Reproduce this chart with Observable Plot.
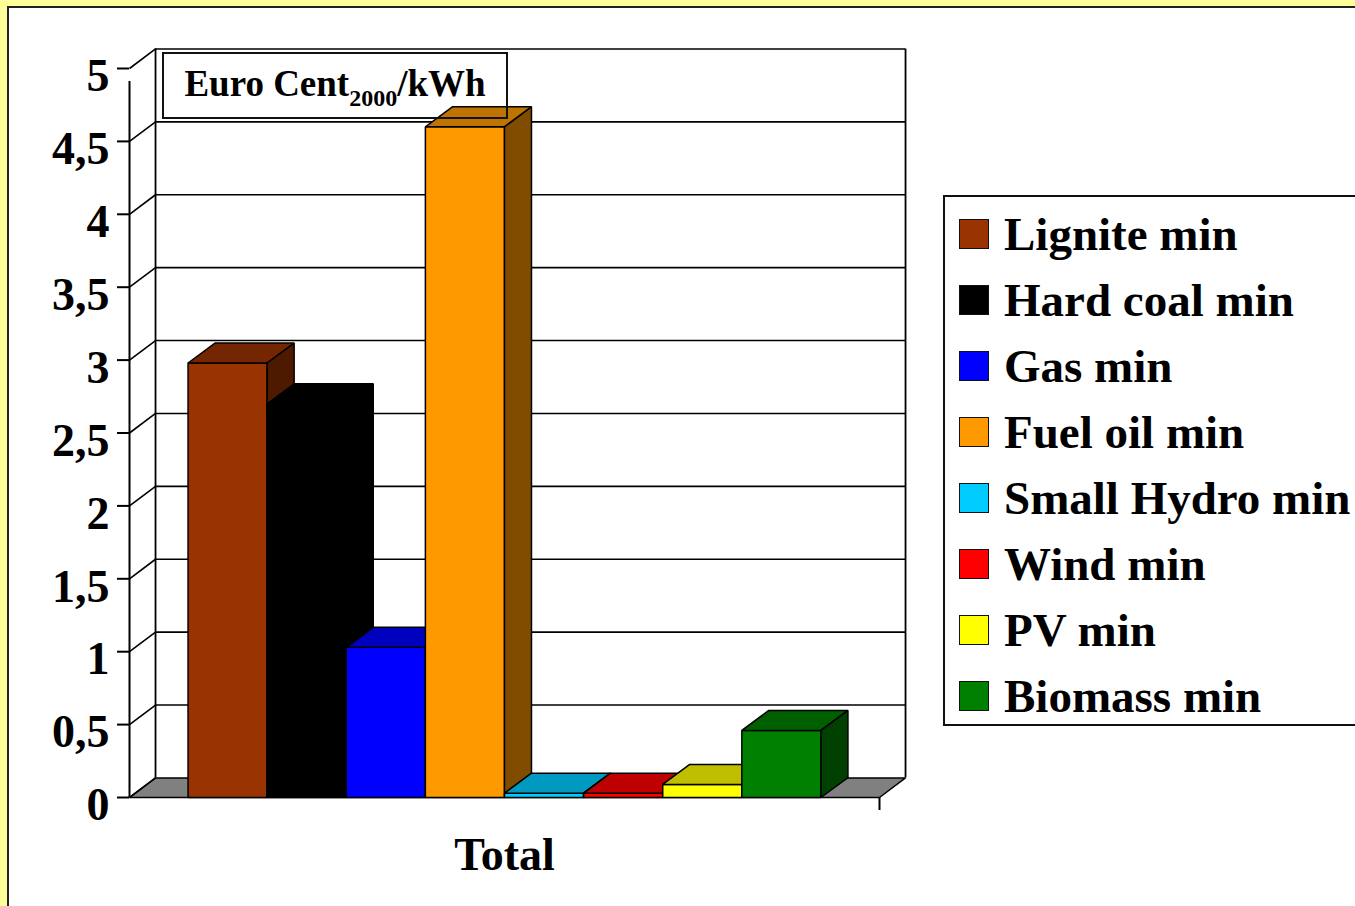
<!DOCTYPE html>
<html><head><meta charset="utf-8">
<script src="https://cdn.jsdelivr.net/npm/d3@7"></script>
<script src="https://cdn.jsdelivr.net/npm/@observablehq/plot@0.6"></script>
<style>
html,body{margin:0;padding:0;}
body{width:1355px;height:906px;background:#FFFF99;overflow:hidden;position:relative;font-family:"Liberation Serif","Times New Roman",serif;}
#panel{position:absolute;left:7px;top:6px;width:1400px;height:950px;background:#fff;border-left:2px solid #222;border-top:2px solid #222;}
#chart{position:absolute;left:0;top:0;}
#chart svg{background:transparent;overflow:visible;}
#title{position:absolute;left:162px;top:52px;width:342px;height:63px;border:2px solid #111;box-sizing:content-box;display:flex;align-items:center;justify-content:center;font-weight:bold;font-size:37px;color:#000;}
#title span{display:inline-block;line-height:1;margin-top:-4px;}
#title sub{font-size:24px;vertical-align:-10px;line-height:0;}
#legend{position:absolute;left:943px;top:195px;width:440px;height:523px;border:2px solid #111;background:#fff;padding-top:4px;box-sizing:content-box;}
.row{height:66px;display:flex;align-items:center;}
.sw{width:28px;height:28px;border:1.5px solid #111;margin-left:14px;flex:none;}
.lab{margin-left:15px;font-weight:bold;font-size:47px;white-space:nowrap;color:#000;}
</style></head>
<body>
<div id="panel"></div>
<div id="chart"></div>
<div id="title"><span>Euro Cent<sub>2000</sub>/kWh</span></div>
<div id="legend"></div>
<script>
// ---- data ----
const categories = ["Lignite min","Hard coal min","Gas min","Fuel oil min","Small Hydro min","Wind min","PV min","Biomass min"];
const values = [2.98, 2.70, 1.03, 4.60, 0.03, 0.03, 0.09, 0.46];
const colors = ["#993300","#000000","#0000FF","#FF9900","#00CCFF","#FF0000","#FFFF00","#008000"];
const yTicks = [0,0.5,1,1.5,2,2.5,3,3.5,4,4.5,5];
const groupLabels = ["Total"];

// ---- geometry (data units) ----
const xLo = -0.74, xHi = 8.74;
const bx = 0.341, by = 0.137;   // bar depth
const wx = 0.329, wy = 0.134;   // wall/floor depth

function shade(c, k){ const r = d3.rgb(c); return d3.rgb(r.r*k, r.g*k, r.b*k).formatHex(); }
function poly(id, fill, pts){ return pts.map(([x,y]) => ({id, fill, x, y})); }

const floor = poly("floor", "#808080", [[xLo,0],[xLo+wx,wy],[xHi+wx,wy],[xHi,0]]);
const faces = [];
categories.forEach((c,i) => {
  const v = values[i], f = colors[i];
  const x0 = i, x1 = i + 1;
  faces.push(...poly(c+"-front", f, [[x0,0],[x0,v],[x1,v],[x1,0]]));
  faces.push(...poly(c+"-top", shade(f,0.75), [[x0,v],[x0+bx,v+by],[x1+bx,v+by],[x1,v]]));
  faces.push(...poly(c+"-side", shade(f,0.5), [[x1,0],[x1,v],[x1+bx,v+by],[x1+bx,by]]));
});

const fmt = d => String(d).replace(".", ",");
const font = "Liberation Serif, Times New Roman, serif";

const chart = Plot.plot({
  width: 1355, height: 906,
  marginLeft: 129, marginRight: 476, marginTop: 68, marginBottom: 109,
  x: {type: "linear", domain: [xLo, xHi], axis: null},
  y: {type: "linear", domain: [0, 5], axis: null},
  style: {background: "transparent", overflow: "visible"},
  marks: [
    Plot.line(floor, {x: "x", y: "y", z: "id", fill: "fill", stroke: "#000", strokeWidth: 1.5, curve: "linear-closed", strokeLinejoin: "miter"}),
    Plot.ruleY(yTicks.slice(1), {y: d => d + wy, x1: xLo + wx, x2: xHi + wx, stroke: "#000", strokeWidth: 1.6}),
    Plot.ruleX([xLo + wx, xHi + wx], {y1: wy, y2: 5 + wy, stroke: "#000", strokeWidth: 1.8}),
    Plot.link(yTicks, {x1: xLo, y1: d => d, x2: xLo + wx, y2: d => d + wy, stroke: "#000", strokeWidth: 1.6}),
    Plot.ruleX([xLo], {y1: 0, y2: 5, insetBottom: -13, stroke: "#000", strokeWidth: 2}),
    Plot.ruleX([xHi], {y1: 0, y2: 0, insetBottom: -13, stroke: "#000", strokeWidth: 2}),
    Plot.ruleY(yTicks, {y: d => d, x1: xLo, x2: xLo, insetLeft: -12, stroke: "#000", strokeWidth: 2}),
    Plot.text(yTicks, {x: xLo, y: d => d, text: fmt, textAnchor: "end", dx: -20, dy: 8, fontSize: 46, fontWeight: "bold", fontFamily: font, fill: "#000"}),
    Plot.line(faces, {x: "x", y: "y", z: "id", fill: "fill", stroke: "#000", strokeWidth: 1.5, curve: "linear-closed", strokeLinejoin: "miter"}),
    Plot.text(groupLabels, {x: (xLo + xHi) / 2, y: 0, text: d => d, dy: 58, fontSize: 46, fontWeight: "bold", fontFamily: font, fill: "#000"})
  ]
});
document.getElementById("chart").appendChild(chart);

const leg = d3.select("#legend");
categories.forEach((c,i) => {
  const r = leg.append("div").attr("class","row");
  r.append("div").attr("class","sw").style("background", colors[i]);
  r.append("div").attr("class","lab").text(c);
});
</script>
</body></html>
